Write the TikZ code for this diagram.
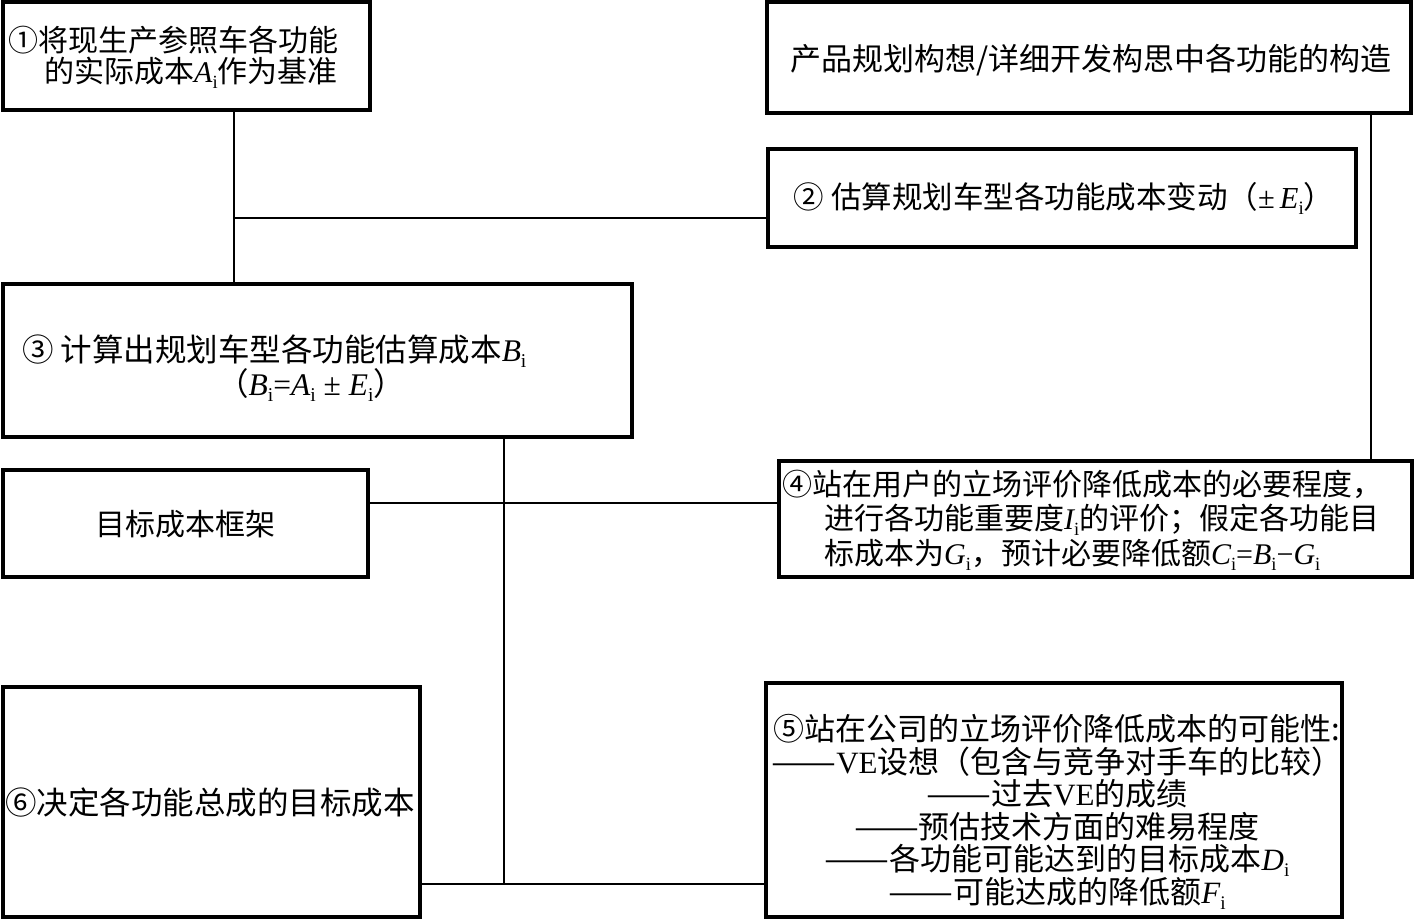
\documentclass[tikz,border=0pt]{standalone}
\usepackage{fontspec}
\setmainfont{Noto Sans CJK SC}
\newfontfamily\lat{Liberation Serif}
\newcommand\vi[1]{{\lat\itshape #1}\raisebox{-0.2em}{\scalebox{0.62}{\lat i}}}
\newcommand\fs[2]{\fontsize{#1}{#2}\selectfont}
\newcommand\dsh{\scalebox{1.25}[1]{——}}
\begin{document}
\begin{tikzpicture}[x=1pt,y=-1pt,
  box/.style={draw,line width=4pt,inner sep=0pt},
  txt/.style={inner sep=0pt},
  link/.style={line width=1.8pt}]
\fill[white] (0,0) rectangle (1418,921);
\useasboundingbox (0,0) rectangle (1418,921);
% boxes
\node[box,minimum width=367,minimum height=107.5] (b1) at (186,55.75) {};
\node[box,minimum width=644,minimum height=111] (bp) at (1089,57.5) {};
\node[box,minimum width=588,minimum height=98] (b2) at (1062,198) {};
\node[box,minimum width=629.5,minimum height=153] (b3) at (317.25,360.5) {};
\node[box,minimum width=365.5,minimum height=107] (bt) at (185.25,523.5) {};
\node[box,minimum width=633,minimum height=116] (b4) at (1095.5,519) {};
\node[box,minimum width=417.5,minimum height=230] (b6) at (211.25,802) {};
\node[box,minimum width=576,minimum height=234] (b5) at (1054,800) {};
% texts
\node[txt,anchor=west,align=left,font=\fs{30}{31}] (t1) at (8,57.5)
  {①将现生产参照车各功能\\\hspace*{1.2em}的实际成本\vi{A}作为基准};
\node[txt,font=\fs{31}{32}] (tp) at (1091,60) {产品规划构想/详细开发构思中各功能的构造};
\node[txt,font=\fs{30.5}{31}] (t2) at (1064,198) {② 估算规划车型各功能成本变动（{\lat±}\,\vi{E}）};
\node[txt,anchor=west,align=left,font=\fs{31.5}{32}] (t3) at (22,368)
  {③ 计算出规划车型各功能估算成本\vi{B}\\\hspace*{195pt}（\vi{B}{\lat=}\vi{A}{\lat\ ±\ }\vi{E}）};
\node[txt,font=\fs{30}{32}] (tt) at (185,524) {目标成本框架};
\node[txt,anchor=west,align=left,font=\fs{30}{34.5}] (t4) at (782,520)
  {④站在用户的立场评价降低成本的必要程度，\\
   \hspace*{42pt}进行各功能重要度\vi{I}的评价；假定各功能目\\
   \hspace*{42pt}标成本为\vi{G}，预计必要降低额\vi{C}{\lat=}\vi{B}{\lat−}\vi{G}};
\node[txt,anchor=west,font=\fs{31.5}{33}] (t6) at (5,803) {⑥决定各功能总成的目标成本};
\node[txt,align=center,font=\fs{31}{32.5}] (t5) at (1057,812)
  {⑤站在公司的立场评价降低成本的可能性:\\
   \dsh{\lat VE}设想（包含与竞争对手车的比较）\\
   \dsh 过去{\lat VE}的成绩\\
   \dsh 预估技术方面的难易程度\\
   \dsh 各功能可能达到的目标成本\vi{D}\\
   \dsh 可能达成的降低额\vi{F}};
% connectors
\coordinate (j1) at (234,218);
\coordinate (k) at (1371,0);
\coordinate (m) at (0,503);
\coordinate (n) at (504,884);
\draw[link] (b1.south -| j1) -- (b3.north -| j1);
\draw[link] (j1) -- (b2.west |- j1);
\draw[link] (bp.south -| k) -- (b4.north -| k);
\draw[link] (bt.east |- m) -- (b4.west |- m);
\draw[link] (b3.south -| n) -- (n);
\draw[link] (b6.east |- n) -- (b5.west |- n);
\end{tikzpicture}
\end{document}
